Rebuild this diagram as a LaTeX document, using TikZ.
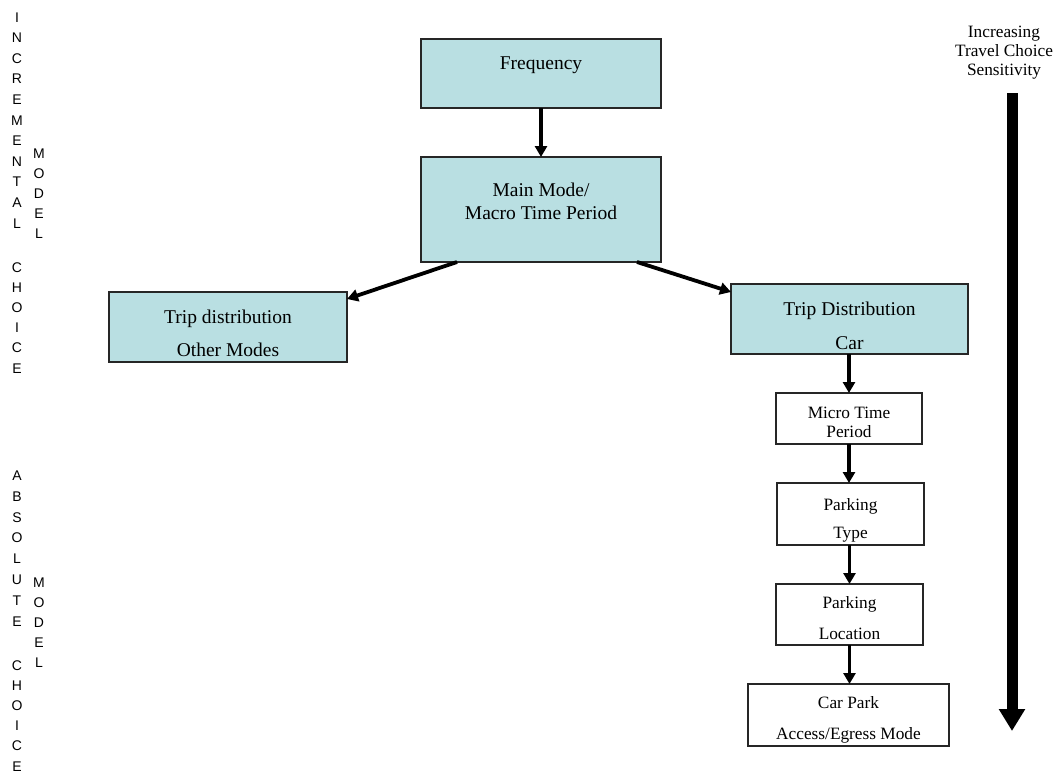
\documentclass[tikz,border=0pt]{standalone}
\usepackage{fontspec}
\setmainfont{Liberation Serif}
\newfontfamily\vfont{Liberation Sans}
\usetikzlibrary{arrows.meta,calc}
\definecolor{boxfill}{RGB}{185,223,226}
\begin{document}
\begin{tikzpicture}[x=1pt,y=-1pt,
  box/.style={draw=black!85,line width=1.4pt,rectangle,inner sep=0pt,outer sep=0pt},
  cbox/.style={box,fill=boxfill},
  wbox/.style={box,fill=white},
  bigtxt/.style={anchor=base,inner sep=0pt,font=\fontsize{19.5}{23}\selectfont},
  smtxt/.style={anchor=base,inner sep=0pt,font=\fontsize{17.3}{20}\selectfont},
  vl/.style={anchor=base,inner sep=0pt,font=\vfont\fontsize{14}{16}\selectfont},
  arr/.style={line width=3.8pt,-{Triangle[length=11pt,width=12pt]}},
  bigarr/.style={line width=11pt,-{Triangle[length=22pt,width=25pt]}}
]
\useasboundingbox (0,0) rectangle (1053,774);
\fill[white] (0,0) rectangle (1053,774);

% boxes
\node[cbox,minimum width=240pt,minimum height=69pt] (freq) at (541,73.5) {};
\node[cbox,minimum width=240pt,minimum height=105pt] (main) at (541,209.5) {};
\node[cbox,minimum width=238pt,minimum height=70pt] (tdo) at (228,327) {};
\node[cbox,minimum width=237pt,minimum height=70pt] (tdc) at (849.5,319) {};
\node[wbox,minimum width=146pt,minimum height=51pt] (micro) at (849,418.5) {};
\node[wbox,minimum width=147pt,minimum height=62pt] (ptype) at (850.5,514) {};
\node[wbox,minimum width=147pt,minimum height=61pt] (ploc) at (849.5,614.5) {};
\node[wbox,minimum width=201pt,minimum height=62pt] (cpark) at (848.5,715) {};

% texts
\node[bigtxt] (tfreq) at (541,69) {Frequency};
\node[bigtxt] (tmain1) at (541,196) {Main Mode/};
\node[bigtxt] (tmain2) at (541,219) {Macro Time Period};
\node[bigtxt] (ttdo1) at (228,323) {Trip distribution};
\node[bigtxt] (ttdo2) at (228,356) {Other Modes};
\node[bigtxt] (ttdc1) at (849.5,315) {Trip Distribution};
\node[bigtxt] (ttdc2) at (849.5,349) {Car};
\node[smtxt] (tmic1) at (849,418.5) {Micro Time};
\node[smtxt] (tmic2) at (849,437.5) {Period};
\node[smtxt] (tpt1) at (850.5,510.5) {Parking};
\node[smtxt] (tpt2) at (850.5,538.5) {Type};
\node[smtxt] (tpl1) at (849.5,608.5) {Parking};
\node[smtxt] (tpl2) at (849.5,639.5) {Location};
\node[smtxt] (tcp1) at (848.5,708.5) {Car Park};
\node[smtxt] (tcp2) at (848.5,739.5) {Access/Egress Mode};
\node[smtxt] (inc1) at (1004,37.5) {Increasing};
\node[smtxt] (inc2) at (1004,56.5) {Travel Choice};
\node[smtxt] (inc3) at (1004,75.5) {Sensitivity};

% connectors
\draw[arr] (freq.south) -- (main.north);
\draw[arr] ($(main.south west)+(36,0)$) -- ($(tdo.north east)+(0,7)$);
\draw[arr] ($(main.south east)+(-24,0)$) -- ($(tdc.north west)+(0,8)$);
\draw[arr] (micro.north |- tdc.south) -- (micro.north);
\draw[arr] (micro.south) -- (micro.south |- ptype.north);
\draw[arr] (ptype.south -| ploc.north) -- (ploc.north);
\draw[arr] (ploc.south) -- (ploc.south |- cpark.north);

% big arrow
\coordinate (bigtop) at (1012,93);
\coordinate (bigend) at (1012,731);
\draw[bigarr] (bigtop) -- (bigend);

% vertical letters
\foreach \c [count=\i from 0] in {I,N,C,R,E,M,E,N,T,A,L}
  \node[vl] (ia\i) at (17,{22+20.6*\i}) {\c};
\foreach \c [count=\i from 0] in {C,H,O,I,C,E}
  \node[vl] (ib\i) at (17,{272+20.2*\i}) {\c};
\foreach \c [count=\i from 0] in {M,O,D,E,L}
  \node[vl] (im\i) at (39,{158+20*\i}) {\c};
\foreach \c [count=\i from 0] in {A,B,S,O,L,U,T,E}
  \node[vl] (aa\i) at (17,{480.5+20.8*\i}) {\c};
\foreach \c [count=\i from 0] in {C,H,O,I,C,E}
  \node[vl] (ab\i) at (17,{670+20.2*\i}) {\c};
\foreach \c [count=\i from 0] in {M,O,D,E,L}
  \node[vl] (am\i) at (39,{587+20*\i}) {\c};
\end{tikzpicture}
\end{document}
